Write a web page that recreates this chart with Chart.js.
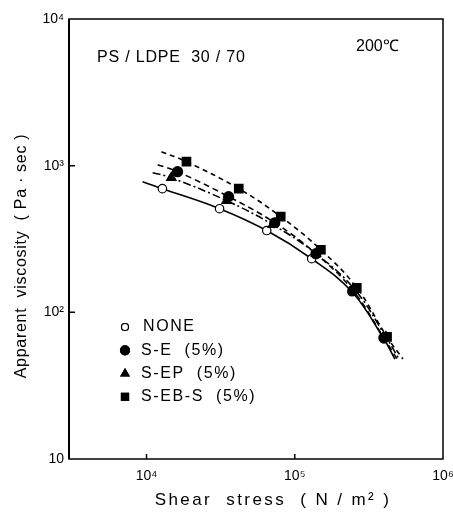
<!DOCTYPE html>
<html lang="en">
<head>
<meta charset="UTF-8">
<title>PS / LDPE viscosity</title>
<script src="https://cdn.jsdelivr.net/npm/chart.js"></script>
<style>
  html, body { margin: 0; padding: 0; background: #fff; }
  #wrap { width: 453px; height: 523px; }
</style>
</head>
<body>
<div id="wrap"><canvas id="viscChart" width="453" height="523"></canvas></div>
<script>
// values (shear stress in N/m2, viscosity in Pa.sec)
const seriesNames = ['NONE', 'S-E  (5%)', 'S-EP  (5%)', 'S-EB-S  (5%)'];

const noneX = [12800, 31100, 64700, 130000, 243000, 399000];
const noneY = [697, 509, 361, 232, 138, 66];
const seX = [16200, 35800, 73300, 139000, 247000, 399000];
const seY = [910, 615, 408, 251, 141, 67];
const sepX = [14700, 34700, 71000, 139000, 254000, 412000];
const sepY = [828, 577, 396, 251, 143, 68];
const sebsX = [18600, 41900, 80400, 150000, 262000, 419000];
const sebsY = [1065, 697, 449, 267, 147, 68];

// fitted curves as drawn in the figure (ends)
const noneFitX = [9400, 12800, 31100, 64700, 130000, 243000, 399000, 474000];
const noneFitY = [778, 697, 509, 361, 232, 138, 66, 48];
const seFitX = [11900, 16200, 35800, 73300, 139000, 247000, 399000, 497000];
const seFitY = [1016, 910, 615, 408, 251, 141, 67, 47];
const sepFitX = [11000, 14700, 34700, 71000, 139000, 254000, 412000, 505000];
const sepFitY = [896, 828, 577, 396, 251, 143, 68, 48];
const sebsFitX = [12600, 18600, 41900, 80400, 150000, 262000, 419000, 537000];
const sebsFitY = [1245, 1065, 697, 449, 267, 147, 68, 48];

const xTicks = [1e4, 1e5, 1e6];
const xTickLabels = ['10\u2074', '10\u2075', '10\u2076'];
const yTicks = [10, 100, 1000, 10000];
const yTickLabels = ['10', '10\u00b2', '10\u00b3', '10\u2074'];

const pts = (xs, ys) => xs.map((x, i) => ({ x: x, y: ys[i] }));
const FONT = '"Liberation Sans", Arial, sans-serif';

function curve(xs, ys, dash, order) {
  return {
    data: pts(xs, ys),
    showLine: true,
    borderColor: '#000',
    borderWidth: 1.6,
    borderDash: dash,
    pointRadius: 0,
    tension: 0.4,
    fill: false,
    order: order
  };
}
function marks(xs, ys, style, r, fill, order) {
  return {
    data: pts(xs, ys),
    showLine: false,
    pointStyle: style,
    pointRadius: r,
    pointBackgroundColor: fill,
    pointBorderColor: '#000',
    pointBorderWidth: 1.2,
    order: order
  };
}

const legendItems = [
  { style: 'circle', r: 3.5, fill: '#fff' },
  { style: 'circle', r: 4.5, fill: '#000' },
  { style: 'triangle', r: 4.5, fill: '#000' },
  { style: 'rect', r: 5, fill: '#000' }
];

const decor = {
  id: 'decor',
  afterDraw(chart) {
    const ctx = chart.ctx;
    const a = chart.chartArea;
    const xs = chart.scales.x, ys = chart.scales.y;
    ctx.save();
    ctx.strokeStyle = '#000';
    // frame
    ctx.lineWidth = 1.5;
    ctx.strokeRect(a.left, a.top, a.right - a.left, a.bottom - a.top);
    ctx.lineWidth = 2;
    ctx.beginPath();
    ctx.moveTo(a.left, a.top); ctx.lineTo(a.left, a.bottom);
    ctx.stroke();
    // inward ticks
    ctx.lineWidth = 1.5;
    ctx.beginPath();
    [100, 1000].forEach(v => {
      const y = ys.getPixelForValue(v);
      ctx.moveTo(a.left, y); ctx.lineTo(a.left + 6, y);
    });
    [1e4, 1e5].forEach(v => {
      const x = xs.getPixelForValue(v);
      ctx.moveTo(x, a.bottom); ctx.lineTo(x, a.bottom - 5);
    });
    ctx.stroke();

    ctx.fillStyle = '#000';
    ctx.textBaseline = 'middle';
    ctx.textAlign = 'left';
    ctx.font = '16px ' + FONT;
    ctx.letterSpacing = '0.8px';
    ctx.fillText('PS / LDPE  30 / 70', 97, 58);
    ctx.letterSpacing = '0px';
    ctx.fillText('200\u2103', 356, 47);

    // legend
    ctx.letterSpacing = '1.6px';
    legendItems.forEach((it, i) => {
      const y = 327 + i * 23.3;
      ctx.fillStyle = it.fill;
      ctx.lineWidth = 1.2;
      Chart.helpers.drawPoint(ctx, { pointStyle: it.style, radius: it.r, borderWidth: 1.2 }, 125, y);
      ctx.fill();
      ctx.stroke();
      ctx.fillStyle = '#000';
      ctx.fillText(seriesNames[i], i === 0 ? 143 : 141, y);
    });

    // axis titles
    ctx.textAlign = 'center';
    ctx.font = '17px ' + FONT;
    ctx.letterSpacing = '2.4px';
    ctx.fillText('Shear  stress  ( N / m\u00b2 )', 273, 500);
    ctx.font = '16px ' + FONT;
    ctx.letterSpacing = '0.7px';
    ctx.translate(22, 256);
    ctx.rotate(-Math.PI / 2);
    ctx.fillText('Apparent  viscosity  ( Pa \u00b7 sec )', 0, 0);
    ctx.restore();
  }
};

new Chart(document.getElementById('viscChart').getContext('2d'), {
  type: 'scatter',
  data: {
    datasets: [
      curve(noneFitX, noneFitY, [], 8),
      curve(seFitX, seFitY, [6, 4], 7),
      curve(sepFitX, sepFitY, [8, 3, 2, 3], 6),
      curve(sebsFitX, sebsFitY, [5, 4], 5),
      marks(noneX, noneY, 'circle', 4.2, '#fff', 4),
      marks(seX, seY, 'circle', 5, '#000', 3),
      marks(sepX, sepY, 'triangle', 5.5, '#000', 2),
      marks(sebsX, sebsY, 'rect', 6, '#000', 1)
    ]
  },
  options: {
    responsive: false,
    animation: false,
    layout: { padding: { left: 0, right: 10, top: 19, bottom: 0 } },
    plugins: { legend: { display: false }, tooltip: { enabled: false } },
    scales: {
      x: {
        type: 'logarithmic',
        min: 3000,
        max: 1e6,
        grid: { display: false, drawTicks: false },
        border: { display: false },
        afterFit: s => { s.height = 64; s.paddingLeft = 0; s.paddingRight = 0; },
        afterBuildTicks: s => { s.ticks = xTicks.map(v => ({ value: v })); },
        ticks: {
          autoSkip: false,
          maxRotation: 0,
          padding: 9,
          color: '#000',
          font: { family: FONT, size: 14 },
          callback: (v) => xTickLabels[xTicks.indexOf(v)]
        }
      },
      y: {
        type: 'logarithmic',
        min: 10,
        max: 10000,
        grid: { display: false, drawTicks: false },
        border: { display: false },
        afterFit: s => { s.width = 69; s.paddingTop = 0; s.paddingBottom = 0; },
        afterBuildTicks: s => { s.ticks = yTicks.map(v => ({ value: v })); },
        ticks: {
          autoSkip: false,
          padding: 5,
          color: '#000',
          font: { family: FONT, size: 14 },
          callback: (v) => yTickLabels[yTicks.indexOf(v)]
        }
      }
    }
  },
  plugins: [decor]
});
</script>
</body>
</html>
